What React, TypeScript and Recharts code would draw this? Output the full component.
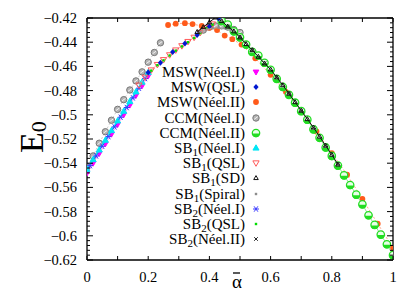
import React from "react";
import { ScatterChart, Scatter, XAxis, YAxis, Legend, Label } from "recharts";

// axis ticks
const X_TICKS = [0, 0.1, 0.2, 0.3, 0.4, 0.5, 0.6, 0.7, 0.8, 0.9, 1];
const X_LABELS = [0, 0.2, 0.4, 0.6, 0.8, 1];
const Y_LABELS = [-0.62, -0.6, -0.58, -0.56, -0.54, -0.52, -0.5, -0.48, -0.46, -0.44, -0.42];
const Y_TICKS: number[] = [];
for (let i = 0; i <= 50; i++) Y_TICKS.push(Number((-0.62 + i * 0.004).toFixed(3)));

// MSW (Néel I)
const mswN1A = [0, 0.02, 0.04, 0.06, 0.08, 0.1, 0.12, 0.14, 0.16, 0.18, 0.2];
const mswN1E = [-0.548, -0.54, -0.532, -0.524, -0.516, -0.508, -0.5, -0.492, -0.484, -0.476, -0.468];
// MSW (QSL)
const mswQA = [0.2, 0.24, 0.28, 0.32, 0.36, 0.4, 0.43];
const mswQE = [-0.465, -0.457, -0.448, -0.441, -0.434, -0.427, -0.4205];
// MSW (Néel II)
const mswN2A = [0.265, 0.29, 0.32, 0.345, 0.375, 0.4, 0.425, 0.45, 0.475, 0.505, 0.55, 0.6, 0.65, 0.7, 0.75, 0.8, 0.85, 0.9, 0.95, 1.0];
const mswN2E = [-0.4258, -0.4247, -0.4243, -0.425, -0.4266, -0.428, -0.43, -0.4345, -0.4375, -0.442, -0.4533, -0.467, -0.481, -0.4973, -0.5138, -0.5317, -0.5495, -0.5696, -0.59, -0.61];
// CCM (Néel I)
const ccmN1A = [0, 0.02, 0.04, 0.06, 0.08, 0.1, 0.12, 0.14, 0.16, 0.18, 0.2, 0.22, 0.24];
const ccmN1E = [-0.5435, -0.534, -0.5235, -0.514, -0.5045, -0.4955, -0.4875, -0.4795, -0.472, -0.4645, -0.4565, -0.4485, -0.4405];
const ccmN1bA = [0.38, 0.4, 0.42, 0.44, 0.46, 0.48, 0.5];
const ccmN1bE = [-0.43, -0.4275, -0.4265, -0.4265, -0.4275, -0.4295, -0.432];
// CCM (Néel II)
const ccmN2A = [0.44, 0.46, 0.48, 0.5, 0.52, 0.54, 0.56, 0.58, 0.6, 0.62, 0.64, 0.66, 0.68, 0.7, 0.72, 0.74, 0.76, 0.78, 0.8, 0.82, 0.84, 0.86, 0.88, 0.9, 0.92, 0.94, 0.96, 0.98, 1.0];
const ccmN2E = [-0.4225, -0.4255, -0.431, -0.436, -0.442, -0.448, -0.451, -0.457, -0.4628, -0.4703, -0.477, -0.4835, -0.49, -0.497, -0.504, -0.512, -0.519, -0.527, -0.534, -0.542, -0.55, -0.558, -0.566, -0.574, -0.583, -0.591, -0.599, -0.607, -0.616];
// SB1 (Néel I)
const sb1N1A = [0, 0.02, 0.04, 0.06, 0.08, 0.1, 0.12, 0.14, 0.16, 0.18, 0.2];
const sb1N1E = [-0.545, -0.537, -0.529, -0.521, -0.513, -0.505, -0.497, -0.489, -0.481, -0.473, -0.465];
// SB1 (QSL)
const sb1QA = [0.17, 0.19, 0.21, 0.23, 0.25, 0.27, 0.29, 0.31, 0.33, 0.35, 0.37, 0.39, 0.41];
const sb1QE = [-0.4755, -0.469, -0.463, -0.4585, -0.4545, -0.4505, -0.4465, -0.443, -0.4395, -0.436, -0.432, -0.428, -0.425];
// SB1 (SD)
const sb1SDA = [0.36, 0.38, 0.4, 0.42, 0.44, 0.46, 0.48, 0.5, 0.52, 0.54, 0.56, 0.58, 0.6, 0.62, 0.64, 0.66, 0.68, 0.7, 0.72, 0.74, 0.76, 0.78, 0.8, 0.82];
const sb1SDE = [-0.4315, -0.4275, -0.4235, -0.4195, -0.4225, -0.427, -0.431, -0.436, -0.4415, -0.4465, -0.452, -0.4575, -0.4625, -0.469, -0.4755, -0.4825, -0.4895, -0.4965, -0.5035, -0.5105, -0.518, -0.5255, -0.533, -0.541];
// SB1 (Spiral)
const sb1SpA = [0.37, 0.39, 0.41, 0.43, 0.45, 0.47];
const sb1SpE = [-0.4315, -0.4295, -0.4285, -0.428, -0.4285, -0.43];
// SB2 (Néel I)
const sb2N1A = [0.01, 0.03, 0.05, 0.07, 0.09, 0.11, 0.13, 0.15, 0.17, 0.19];
const sb2N1E = [-0.542, -0.534, -0.526, -0.518, -0.51, -0.502, -0.494, -0.486, -0.478, -0.47];
// SB2 (QSL)
const sb2QA = [0.21, 0.23, 0.25, 0.27, 0.29, 0.31, 0.33, 0.35, 0.37, 0.39, 0.41];
const sb2QE = [-0.4635, -0.459, -0.455, -0.451, -0.447, -0.4435, -0.44, -0.4365, -0.4325, -0.4285, -0.4255];
// SB2 (Néel II)
const sb2N2A = [0.46, 0.5, 0.54, 0.58, 0.62, 0.66, 0.7, 0.74, 0.78, 0.82];
const sb2N2E = [-0.427, -0.436, -0.4465, -0.4575, -0.469, -0.4825, -0.4965, -0.5105, -0.5255, -0.541];

const pts = (xs: number[], ys: number[]) => xs.map((x, i) => ({ x, y: ys[i] }));

const FONT = "'Liberation Serif', 'Times New Roman', serif";

type Draw = (cx: number, cy: number) => React.ReactElement;

const triUp = (fill: string, stroke: string, s: number): Draw => (cx, cy) => (
  <path d={`M${cx},${cy - s} L${cx + s * 0.95},${cy + s * 0.65} L${cx - s * 0.95},${cy + s * 0.65} Z`} fill={fill} stroke={stroke} strokeWidth={1} />
);
const triDown = (fill: string, stroke: string, s: number): Draw => (cx, cy) => (
  <path d={`M${cx},${cy + s} L${cx + s * 0.95},${cy - s * 0.65} L${cx - s * 0.95},${cy - s * 0.65} Z`} fill={fill} stroke={stroke} strokeWidth={1} />
);

const MK: Record<string, Draw> = {
  mswN1: triDown("#ff00ff", "#ff00ff", 3),
  mswQ: (cx, cy) => <path d={`M${cx},${cy - 3} L${cx + 2.6},${cy} L${cx},${cy + 3} L${cx - 2.6},${cy} Z`} fill="#0018d0" />,
  mswN2: (cx, cy) => <circle cx={cx} cy={cy} r={2.9} fill="#ff5a1a" />,
  ccmN1: (cx, cy) => (
    <g>
      <circle cx={cx} cy={cy} r={3.2} fill="#b4b4b4" stroke="#787878" strokeWidth={1} />
      <line x1={cx - 1.8} y1={cy + 1.3} x2={cx + 1.8} y2={cy - 1.3} stroke="#f4f4f4" strokeWidth={1} />
    </g>
  ),
  ccmN2: (cx, cy) => (
    <g>
      <circle cx={cx} cy={cy} r={3.7} fill="#e8ffe8" stroke="#22dd22" strokeWidth={1.3} />
      <path d={`M${cx - 3.7},${cy + 0.5} A3.7,3.7 0 0 0 ${cx + 3.7},${cy + 0.5} Z`} fill="#22dd22" />
    </g>
  ),
  sb1N1: triUp("#00e6f5", "#00e6f5", 3.2),
  sb1Q: triDown("none", "#ff5a5a", 3.3),
  sb1SD: triUp("none", "#111", 2.4),
  sb1Sp: (cx, cy) => <rect x={cx - 1.2} y={cy - 1.2} width={2.4} height={2.4} fill="#8c8c8c" />,
  sb2N1: (cx, cy) => (
    <g stroke="#3a3aff" strokeWidth={1}>
      <line x1={cx - 3} y1={cy} x2={cx + 3} y2={cy} />
      <line x1={cx - 1.9} y1={cy - 2.7} x2={cx + 1.9} y2={cy + 2.7} />
      <line x1={cx - 1.9} y1={cy + 2.7} x2={cx + 1.9} y2={cy - 2.7} />
    </g>
  ),
  sb2Q: (cx, cy) => <rect x={cx - 1.2} y={cy - 1.2} width={2.4} height={2.4} fill="#00dd00" />,
  sb2N2: (cx, cy) => (
    <g stroke="#222" strokeWidth={1}>
      <line x1={cx - 1.8} y1={cy - 1.8} x2={cx + 1.8} y2={cy + 1.8} />
      <line x1={cx - 1.8} y1={cy + 1.8} x2={cx + 1.8} y2={cy - 1.8} />
    </g>
  ),
};

const LEGEND = [
  { base: "MSW", sub: "", rest: "(Néel.I)", mk: "mswN1" },
  { base: "MSW", sub: "", rest: "(QSL)", mk: "mswQ" },
  { base: "MSW", sub: "", rest: "(Néel.II)", mk: "mswN2" },
  { base: "CCM", sub: "", rest: "(Néel.I)", mk: "ccmN1" },
  { base: "CCM", sub: "", rest: "(Néel.II)", mk: "ccmN2" },
  { base: "SB", sub: "1", rest: "(Néel.I)", mk: "sb1N1" },
  { base: "SB", sub: "1", rest: "(QSL)", mk: "sb1Q" },
  { base: "SB", sub: "1", rest: "(SD)", mk: "sb1SD" },
  { base: "SB", sub: "1", rest: "(Spiral)", mk: "sb1Sp" },
  { base: "SB", sub: "2", rest: "(Néel.I)", mk: "sb2N1" },
  { base: "SB", sub: "2", rest: "(QSL)", mk: "sb2Q" },
  { base: "SB", sub: "2", rest: "(Néel.II)", mk: "sb2N2" },
];

const fmt = (v: number) => String(Number(v.toFixed(2))).replace("-", "\u2212");

const XTick = (props: any) => {
  const { x, y, payload, side } = props;
  const v = payload.value as number;
  const lab = X_LABELS.some((t) => Math.abs(t - v) < 1e-6);
  if (side === "top") {
    return <line x1={x} x2={x} y1={y} y2={y + 4} stroke="#000" strokeWidth={1} />;
  }
  const axisY = y - 12;
  return (
    <g>
      <line x1={x} x2={x} y1={axisY} y2={axisY - 4} stroke="#000" strokeWidth={1} />
      {lab && (
        <text x={x} y={axisY + 22} textAnchor="middle" fontFamily={FONT} fontSize={14.5} fill="#000">
          {fmt(v)}
        </text>
      )}
    </g>
  );
};

const YTick = (props: any) => {
  const { x, y, payload, side } = props;
  const v = payload.value as number;
  const major = Math.abs(Math.round(v * 1000)) % 20 === 0;
  const len = major ? 6 : 3;
  if (side === "right") {
    return <line x1={x} x2={x - len} y1={y} y2={y} stroke="#000" strokeWidth={1} />;
  }
  const axisX = x + 10;
  return (
    <g>
      <line x1={axisX} x2={axisX + len} y1={y} y2={y} stroke="#000" strokeWidth={1} />
      {major && (
        <text x={axisX - 10} y={y + 5} textAnchor="end" fontFamily={FONT} fontSize={14.5} fill="#000">
          {fmt(v)}
        </text>
      )}
    </g>
  );
};

const LegendBox = () => (
  <div style={{ position: "absolute", left: 0, top: 0, width: 415, height: 291, pointerEvents: "none" }}>
    {LEGEND.map((e, i) => {
      const cy = 72 + i * 15.2;
      return (
        <div key={i}>
          <div
            style={{
              position: "absolute",
              left: 0,
              width: 245,
              top: cy - 10,
              height: 20,
              lineHeight: "20px",
              textAlign: "right",
              fontFamily: FONT,
              fontSize: 15,
              color: "#000",
              whiteSpace: "nowrap",
            }}
          >
            {e.base}
            {e.sub && <span style={{ fontSize: 11, position: "relative", top: 3 }}>{e.sub}</span>}
            {e.rest}
          </div>
          <svg style={{ position: "absolute", left: 249, top: cy - 7 }} width={14} height={14}>
            {MK[e.mk](7, 7)}
          </svg>
        </div>
      );
    })}
  </div>
);

const shape = (k: string) => (p: any) => MK[k](p.cx, p.cy);

const YLabel = () => (
  <text transform="translate(43,153) rotate(-90)" fontFamily={FONT} fontSize={34} fill="#000">
    E
    <tspan fontSize={22} dy={3}>
      0
    </tspan>
  </text>
);

const XLabel = () => (
  <g>
    <text x={237} y={288} textAnchor="middle" fontFamily={FONT} fontSize={19} fill="#000">
      α
    </text>
    <line x1={233} x2={240} y1={273} y2={273} stroke="#000" strokeWidth={1.3} />
  </g>
);

export default function App() {
  const ax = { xAxisId: "b", yAxisId: "l", isAnimationActive: false } as const;
  return (
    <div style={{ position: "absolute", left: 0, top: 0, background: "#fff" }}>
      <ScatterChart width={415} height={291} margin={{ top: 17, right: 21, bottom: 6, left: 27 }}>
        <XAxis
          xAxisId="b"
          type="number"
          dataKey="x"
          domain={[0, 1]}
          allowDataOverflow
          ticks={X_TICKS}
          interval={0}
          tickLine={false}
          tickSize={0}
          tickMargin={12}
          height={25}
          axisLine={{ stroke: "#000", strokeWidth: 1.3 }}
          tick={<XTick side="bottom" />}
        >
          <Label content={<XLabel />} />
        </XAxis>
        <XAxis
          xAxisId="t"
          orientation="top"
          type="number"
          dataKey="x"
          domain={[0, 1]}
          allowDataOverflow
          ticks={X_TICKS}
          interval={0}
          tickLine={false}
          tickSize={0}
          tickMargin={0}
          height={1}
          axisLine={{ stroke: "#000", strokeWidth: 1.3 }}
          tick={<XTick side="top" />}
        />
        <YAxis
          yAxisId="l"
          type="number"
          dataKey="y"
          domain={[-0.62, -0.42]}
          allowDataOverflow
          ticks={Y_TICKS}
          interval={0}
          tickLine={false}
          tickSize={0}
          tickMargin={10}
          width={60}
          axisLine={{ stroke: "#000", strokeWidth: 1.3 }}
          tick={<YTick side="left" />}
        >
          <Label content={<YLabel />} />
        </YAxis>
        <YAxis
          yAxisId="r"
          orientation="right"
          type="number"
          dataKey="y"
          domain={[-0.62, -0.42]}
          allowDataOverflow
          ticks={Y_TICKS}
          interval={0}
          tickLine={false}
          tickSize={0}
          tickMargin={0}
          width={1}
          axisLine={{ stroke: "#000", strokeWidth: 1.3 }}
          tick={<YTick side="right" />}
        />

        <Scatter {...ax} name="CCM(Néel.I)" data={pts(ccmN1A, ccmN1E)} line={{ stroke: "#cccccc", strokeWidth: 1, strokeDasharray: "2 2" }} shape={shape("ccmN1")} />
        <Scatter {...ax} name="CCM(Néel.I) b" data={pts(ccmN1bA, ccmN1bE)} line={{ stroke: "#cccccc", strokeWidth: 1, strokeDasharray: "2 2" }} shape={shape("ccmN1")} />
        <Scatter {...ax} name="MSW(Néel.II)" data={pts(mswN2A, mswN2E)} line={{ stroke: "#ffa888", strokeWidth: 1, strokeDasharray: "2 2" }} shape={shape("mswN2")} />
        <Scatter {...ax} name="CCM(Néel.II)" data={pts(ccmN2A, ccmN2E)} line={{ stroke: "#8ee88e", strokeWidth: 1 }} shape={shape("ccmN2")} />
        <Scatter {...ax} name="MSW(Néel.I)" data={pts(mswN1A, mswN1E)} line={{ stroke: "#ff77ff", strokeWidth: 0.8 }} shape={shape("mswN1")} />
        <Scatter {...ax} name="SB1(Néel.I)" data={pts(sb1N1A, sb1N1E)} line={{ stroke: "#00e6f5", strokeWidth: 1.6 }} shape={shape("sb1N1")} />
        <Scatter {...ax} name="SB2(Néel.I)" data={pts(sb2N1A, sb2N1E)} shape={shape("sb2N1")} />
        <Scatter {...ax} name="SB1(QSL)" data={pts(sb1QA, sb1QE)} line={{ stroke: "#ffa0a0", strokeWidth: 0.8 }} shape={shape("sb1Q")} />
        <Scatter {...ax} name="SB2(QSL)" data={pts(sb2QA, sb2QE)} shape={shape("sb2Q")} />
        <Scatter {...ax} name="MSW(QSL)" data={pts(mswQA, mswQE)} shape={shape("mswQ")} />
        <Scatter {...ax} name="SB1(Spiral)" data={pts(sb1SpA, sb1SpE)} line={{ stroke: "#aaaaaa", strokeWidth: 1 }} shape={shape("sb1Sp")} />
        <Scatter {...ax} name="SB1(SD)" data={pts(sb1SDA, sb1SDE)} line={{ stroke: "#111", strokeWidth: 1 }} shape={shape("sb1SD")} />
        <Scatter {...ax} name="SB2(Néel.II)" data={pts(sb2N2A, sb2N2E)} shape={shape("sb2N2")} />

        <Legend layout="vertical" align="center" verticalAlign="middle" content={() => <LegendBox />} wrapperStyle={{ left: 0, top: 0, width: 415, height: 291 }} />
      </ScatterChart>
    </div>
  );
}
